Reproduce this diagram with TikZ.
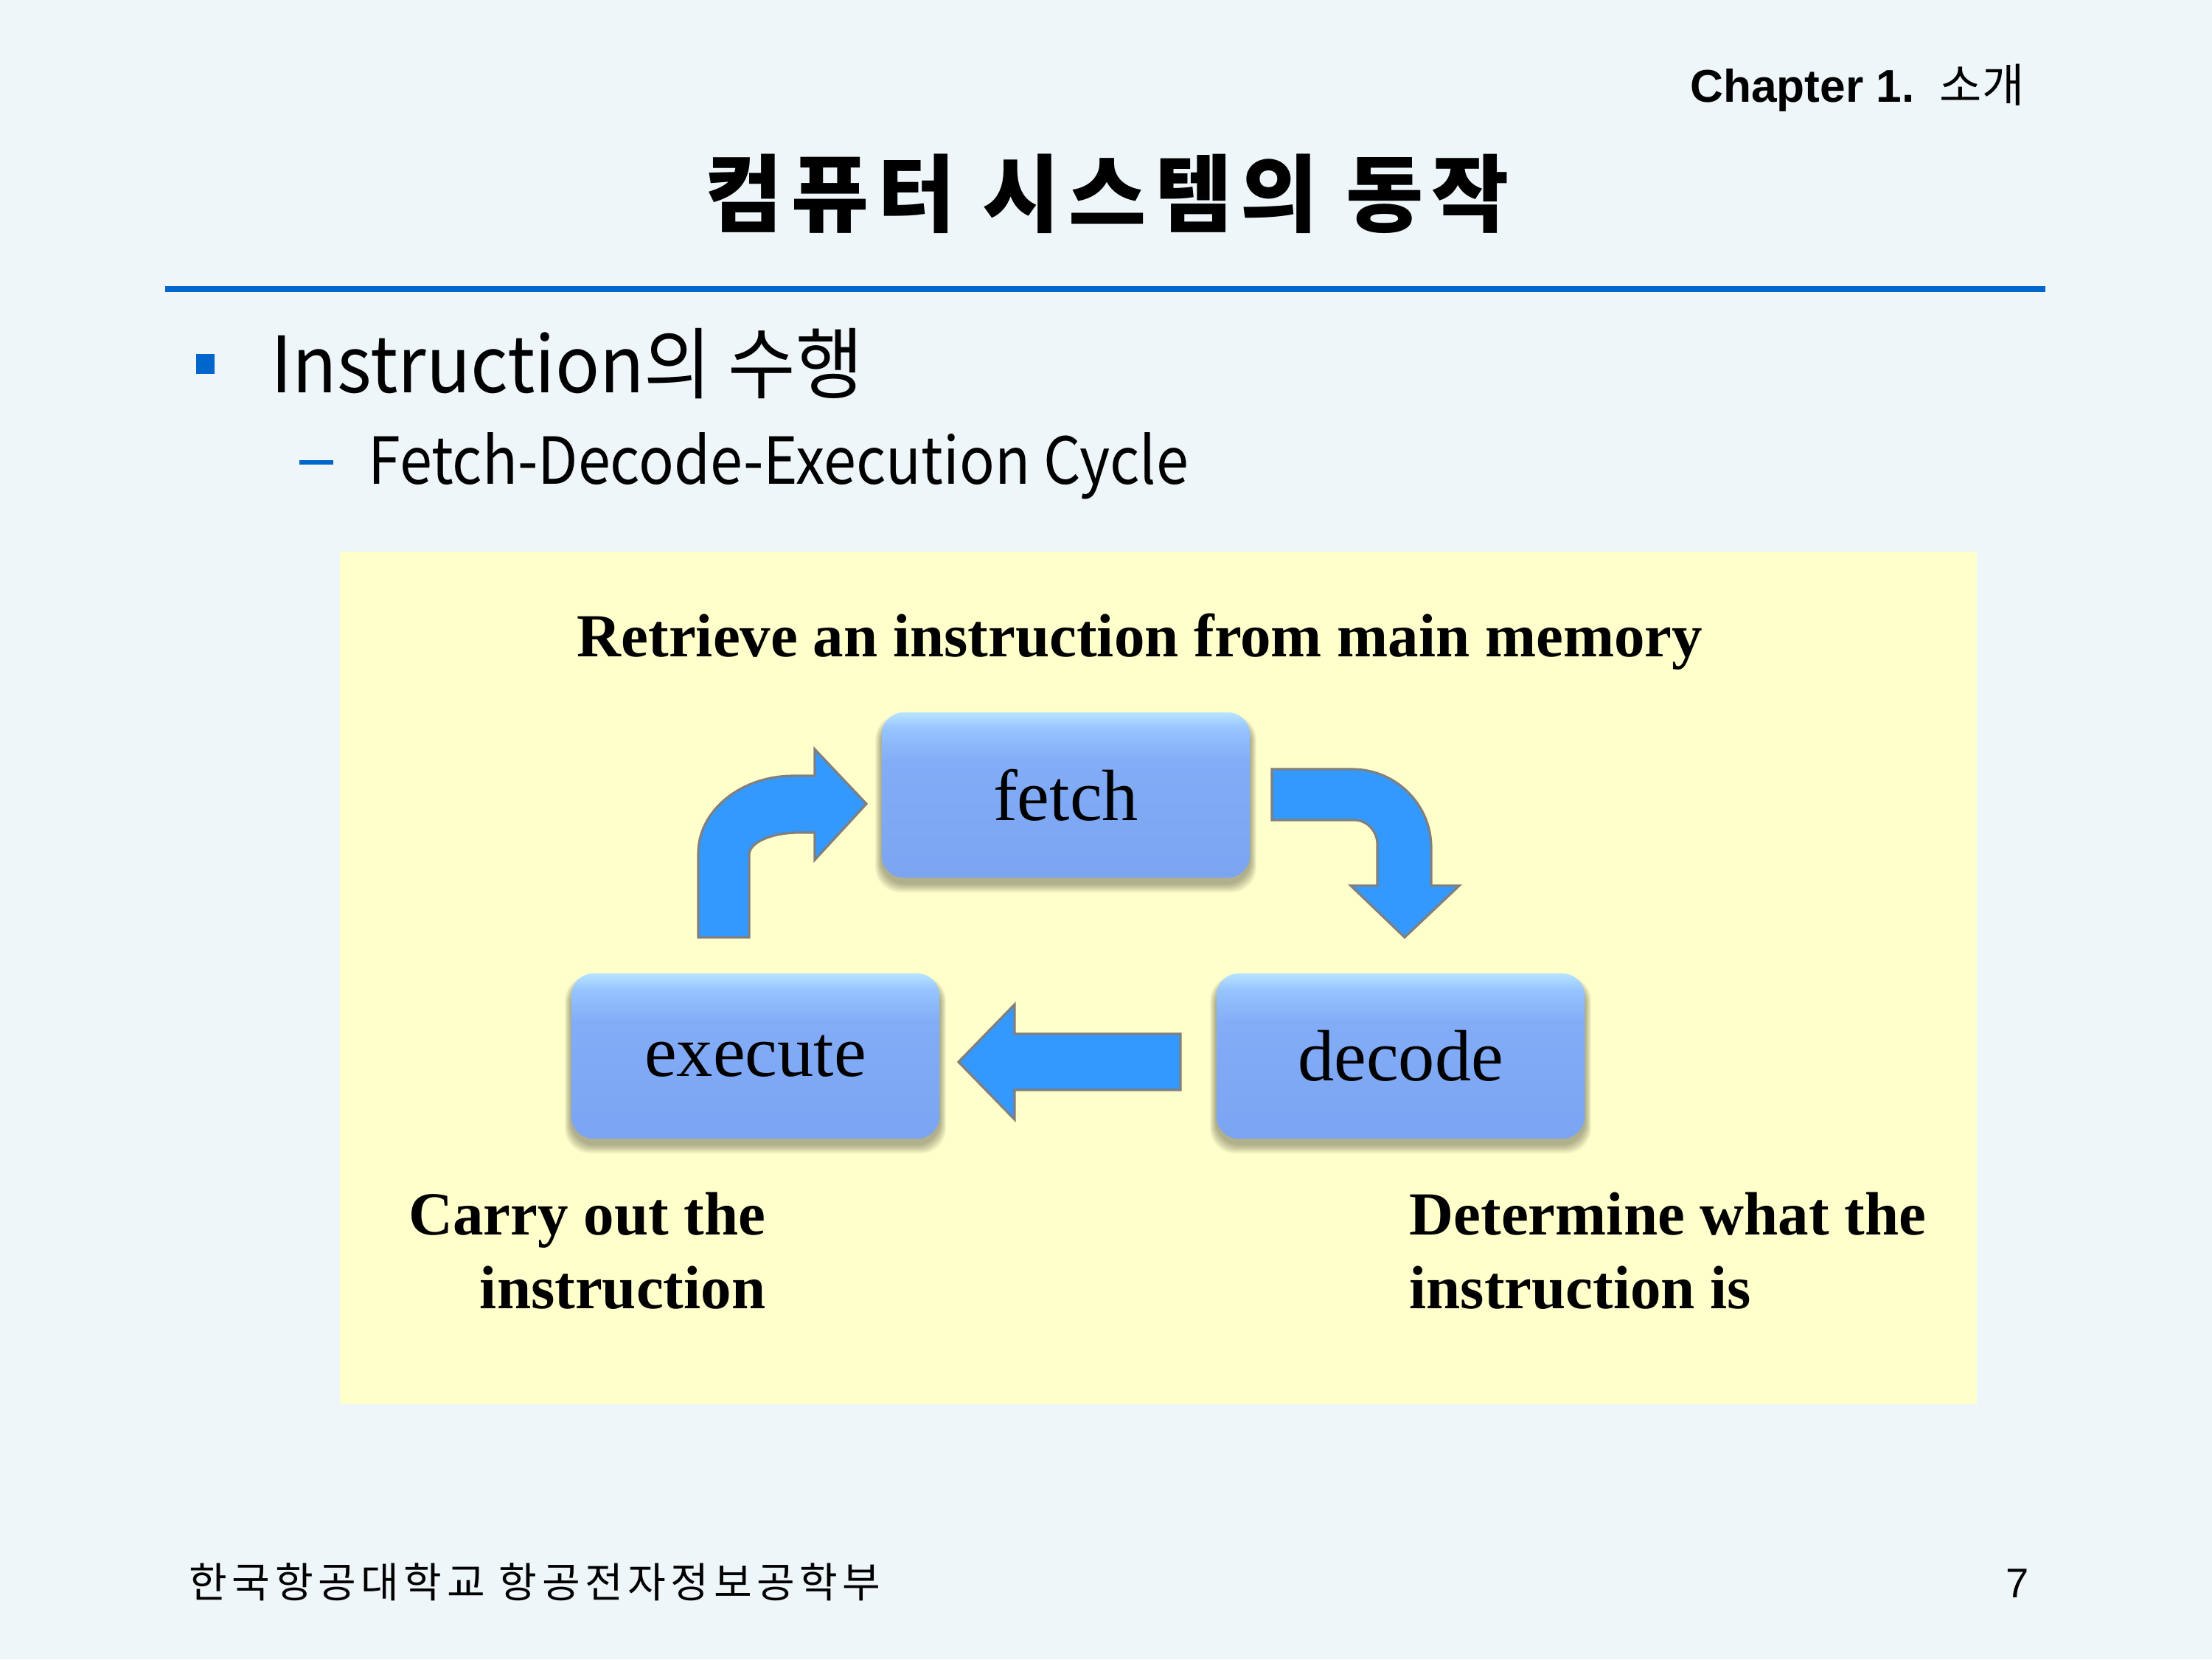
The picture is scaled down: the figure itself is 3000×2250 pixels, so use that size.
\documentclass[tikz,border=0pt]{standalone}
\usepackage{fontspec}
\setmainfont{Liberation Serif}
\newfontfamily\kr{Noto Sans CJK KR}
\newfontfamily\arialf{Liberation Sans}

\definecolor{pagebg}{RGB}{238,246,250}
\definecolor{panelbg}{RGB}{255,255,204}
\definecolor{rulecol}{RGB}{0,102,204}
\definecolor{arrowfill}{RGB}{51,153,255}
\definecolor{arrowline}{RGB}{127,127,127}
\definecolor{bxbot}{RGB}{123,165,242}
\definecolor{bxmid}{RGB}{130,172,246}
\definecolor{bxtop}{RGB}{150,196,255}
\definecolor{bxhi}{RGB}{184,228,255}

% soft bevel look of the cycle boxes: light band along the top edge
\pgfdeclareverticalshading{stageshade}{100bp}{color(0bp)=(bxbot); color(25bp)=(bxbot); color(60bp)=(bxmid); color(70bp)=(bxtop); color(75bp)=(bxhi); color(100bp)=(bxhi)}

\pgfdeclarelayer{backdrop}
\pgfdeclarelayer{shade}
\pgfsetlayers{backdrop,shade,main}

\tikzset{
  stagebox/.style={rounded corners=0.3cm, shading=stageshade,
    minimum width=4.99cm, minimum height=2.24cm, inner sep=0pt,
    font=\fontsize{28pt}{30pt}\selectfont},
  blockarrow/.style={fill=arrowfill, draw=arrowline, line width=0.9pt, line join=miter},
  caption/.style={inner sep=0pt, font=\fontsize{23.6pt}{28.5pt}\selectfont\bfseries},
}

% soft shadow below a stage box, built from stacked translucent layers
\newcommand\stageshadow[1]{%
  \begin{pgfonlayer}{shade}
    \foreach \k in {0,...,7}{
      \fill[black, opacity=0.045, rounded corners=0.34cm]
        ([shift={(-0.2pt-0.3pt*\k,-2.4pt-0.45pt*\k)}]#1.south west) rectangle
        ([shift={(0.2pt+0.3pt*\k,-2.5pt+0.2pt*\k)}]#1.north east);
    }
  \end{pgfonlayer}}

\begin{document}
\begin{tikzpicture}[x=0.01cm, y=-0.01cm]
  % page and panel
  \begin{pgfonlayer}{backdrop}
    \fill[pagebg] (0,0) rectangle (3000,2250);
    \fill[panelbg] (461,748) rectangle (2681,1904);
  \end{pgfonlayer}
  \useasboundingbox (0,0) rectangle (3000,2250);

  % header
  \node[anchor=base east, inner sep=0pt] (chapter) at (2746,138)
    {\fontsize{17.7pt}{20pt}\selectfont\arialf\bfseries Chapter 1.\hspace{0.55em}{\kr\mdseries 소개}};
  \node[anchor=base, inner sep=0pt] (title) at (1502,305)
    {\fontsize{32.5pt}{36pt}\selectfont\kr\bfseries\addfontfeature{LetterSpace=10}컴퓨터 시스템의 동작};
  \draw[rulecol, line width=2.3pt] (224,392) -- (2774,392);

  % bullet list
  \fill[rulecol] (266,480) rectangle (291,507);
  \node[anchor=base west, inner sep=0pt] (item) at (367,532)
    {\fontsize{30pt}{34pt}\selectfont\kr\scalebox{0.943}[1]{Instruction의 수행}};
  \draw[rulecol, line width=1.6pt] (406,627) -- (452,627);
  \node[anchor=base west, inner sep=0pt] (subitem) at (499,656)
    {\fontsize{25pt}{28pt}\selectfont\kr\scalebox{0.9}[1]{Fetch-Decode-Execution Cycle}};

  % cycle stages
  \node[stagebox] (fetch) at (1445.5,1078) {fetch};
  \node[stagebox] (execute) at (1024.5,1432) {execute};
  \node[stagebox] (decode) at (1899.5,1432) {decode};
  \stageshadow{fetch}
  \stageshadow{execute}
  \stageshadow{decode}

  % execute -> fetch (bent up and right)
  \draw[blockarrow] (947,1271) -- (947,1157)
    .. controls (947,1099) and (1005,1052) .. (1076,1052)
    -- (1105,1052) -- (1105,1016) -- (1175,1090) -- (1105,1166) -- (1105,1129)
    -- (1084,1129) .. controls (1047,1129) and (1016,1142) .. (1016,1159)
    -- (1016,1271) -- cycle;
  % fetch -> decode (bent right and down)
  \draw[blockarrow] (1725,1043) -- (1834,1043)
    .. controls (1893,1043) and (1941,1091) .. (1941,1149)
    -- (1941,1201) -- (1979,1201) -- (1905,1271) -- (1832,1201) -- (1868,1201)
    -- (1868,1145) .. controls (1868,1127) and (1854,1112) .. (1837,1112)
    -- (1725,1112) -- cycle;
  % decode -> execute
  \draw[blockarrow] (1601,1402) -- (1376,1402) -- (1376,1362) -- (1300,1440)
    -- (1376,1518) -- (1376,1478) -- (1601,1478) -- cycle;

  % captions
  \node[caption, anchor=base] (fetchcap) at (1546,890) {Retrieve an instruction from main memory};
  \node[caption, anchor=base east] (execcap1) at (1039,1674) {Carry out the};
  \node[caption, anchor=base east] (execcap2) at (1039,1774) {instruction};
  \node[caption, anchor=base west] (deccap1) at (1911,1674) {Determine what the};
  \node[caption, anchor=base west] (deccap2) at (1911,1774) {instruction is};

  % footer
  \node[anchor=base west, inner sep=0pt] (school) at (256,2166)
    {\fontsize{16pt}{18pt}\selectfont\kr\addfontfeature{LetterSpace=11.5}한국항공대학교 항공전자정보공학부};
  \node[anchor=base east, inner sep=0pt] (page) at (2752,2166)
    {\fontsize{16pt}{18pt}\selectfont\arialf 7};
\end{tikzpicture}
\end{document}
